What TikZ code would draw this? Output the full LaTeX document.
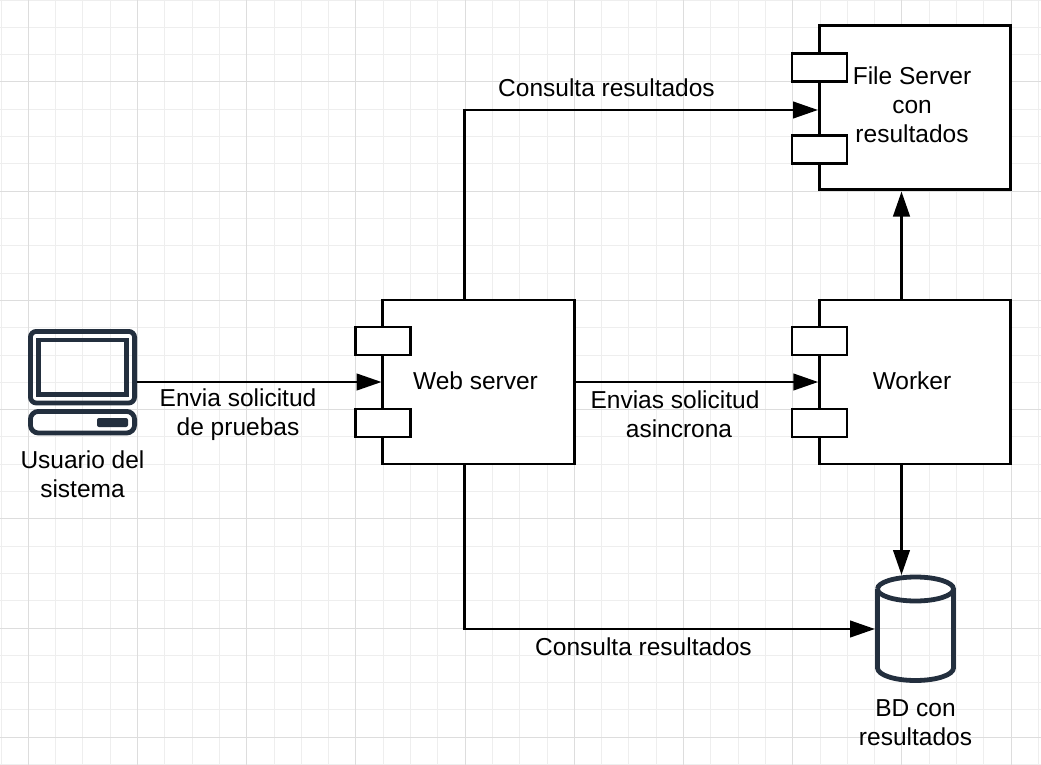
\documentclass[tikz,border=0pt]{standalone}
\usepackage{fontspec}
\setmainfont{Liberation Sans}
\usetikzlibrary{arrows.meta}
\definecolor{iconcol}{HTML}{232F3E}
\definecolor{gridminor}{HTML}{EEEEEE}
\definecolor{gridmajor}{HTML}{DDDDDD}
\begin{document}
\begin{tikzpicture}[
  x=1pt, y=-1pt,
  compnode/.style={rectangle, draw, fill=white, line width=2.9pt, outer sep=0pt, inner sep=0pt, minimum width=191.5pt, minimum height=164pt},
  portnode/.style={rectangle, draw, fill=white, line width=2.9pt, outer sep=0pt, inner sep=0pt, minimum width=55pt, minimum height=28pt},
  txtnode/.style={align=center, inner sep=0pt, font=\fontsize{24.5}{29}\selectfont},
  iconline/.style={draw=iconcol, line width=4.8pt},
  line width=2.7pt,
  >={Triangle[length=25pt, width=16.5pt]}
]
  \useasboundingbox (0,0) rectangle (1041,765);
  \fill[white] (0,0) rectangle (1041,765);

  % grid
  \foreach \k in {0,...,38} {
    \draw[gridminor, line width=1pt] ({1+27.3*\k},0) -- ({1+27.3*\k},765);
  }
  \foreach \k in {0,...,28} {
    \draw[gridminor, line width=1pt] (0,{0.1+27.3*\k}) -- (1041,{0.1+27.3*\k});
  }
  \foreach \k in {0,...,9} {
    \draw[gridmajor, line width=1pt] ({28.3+109.2*\k},0) -- ({28.3+109.2*\k},765);
  }
  \foreach \k in {0,...,6} {
    \draw[gridmajor, line width=1pt] (0,{82+109.2*\k}) -- (1041,{82+109.2*\k});
  }

  % components
  \node[compnode] (web) at (478.3,382) {};
  \node[compnode] (worker) at (915,382) {};
  \node[compnode] (files) at (915,107.5) {};
  \node[portnode] (webp1) at (382.8,341) {};
  \node[portnode] (webp2) at (382.8,423) {};
  \node[portnode] (workerp1) at (819.5,341) {};
  \node[portnode] (workerp2) at (819.5,423) {};
  \node[portnode] (filesp1) at (819.5,67.5) {};
  \node[portnode] (filesp2) at (819.5,149.5) {};
  \node[txtnode] (webtxt) at (475.5,380.5) {Web server};
  \node[txtnode] (workertxt) at (912,380.5) {Worker};
  \node[txtnode] (filestxt) at (912,105) {File Server\\con\\resultados};

  % user
  \node[minimum width=109pt, minimum height=106pt, inner sep=0pt, outer sep=0pt] (pc) at (82.5,382) {};
  \draw[iconline, rounded corners=6pt] (30.4,331.4) rectangle (134.6,403);
  \draw[iconline] (38.8,340) rectangle (126.2,394.2);
  \draw[iconline, rounded corners=8pt] (30.4,411.4) rectangle (134.6,433);
  \fill[iconcol, rounded corners=2pt] (97,418) rectangle (128,427);
  \node[txtnode] (pctxt) at (82.5,474.5) {Usuario del\\sistema};

  % database
  \node[minimum width=81pt, minimum height=108pt, inner sep=0pt, outer sep=0pt] (bd) at (915.5,629) {};
  \draw[iconline] (877.5,589) arc[start angle=180, end angle=-180, x radius=38, y radius=12];
  \draw[iconline, line join=round] (877.5,589) -- (877.5,668) arc[start angle=180, end angle=0, x radius=38, y radius=12.5] -- (953.5,589);
  \node[txtnode] (bdtxt) at (915.5,723) {BD con\\resultados};

  % connectors
  \coordinate (webtop) at (464.5,300);
  \coordinate (webbot) at (464.5,464);
  \coordinate (workertop) at (901.5,300);
  \coordinate (workerbot) at (901.5,464);
  \coordinate (filesin) at (819,110);
  \coordinate (bdin) at (875,629);
  \draw[->, shorten >=1pt] (pc.east) -- (web.west);
  \draw[->, shorten >=1pt] (web.east) -- (worker.west);
  \draw[->, shorten >=2pt] (workertop) -- (workertop |- files.south);
  \draw[->] (workerbot) -- (workerbot |- bd.north);
  \draw[->, shorten >=1pt] (webtop) |- (filesin);
  \draw[->] (webbot) |- (bdin);

  % labels
  \node[txtnode] (lbltop) at (606.5,88) {Consulta resultados};
  \node[txtnode] (lblbot) at (643.5,647) {Consulta resultados};
  \node[txtnode] (lblpc) at (238,414.5) {Envia solicitud\\de pruebas};
  \node[txtnode] (lblworker) at (675,414.5) {Envias solicitud\\\hspace*{8pt}asincrona};
\end{tikzpicture}
\end{document}
